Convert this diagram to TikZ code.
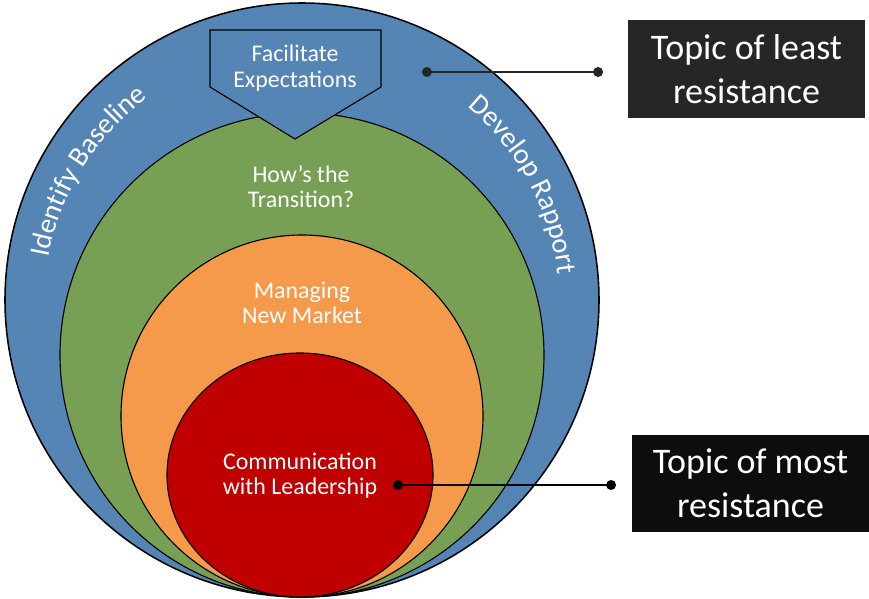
\documentclass[tikz,border=0pt]{standalone}
\usepackage{fontspec}
\setmainfont{Carlito}
\usepackage{xcolor}
\usetikzlibrary{arrows.meta, decorations.text}
\definecolor{ringblue}{HTML}{5585B5}
\definecolor{ringgreen}{HTML}{77A055}
\definecolor{ringorange}{HTML}{F59A4A}
\definecolor{ringred}{HTML}{C00000}
\definecolor{boxgrey}{HTML}{262626}
\definecolor{boxblack}{HTML}{0D0D0D}
\newcommand{\ringfont}{\fontsize{20.3pt}{24pt}\selectfont}
\tikzset{
  ring/.style={draw=black, line width=0.8pt},
  inlabel/.style={align=center, text=white, font=\fontsize{17pt}{18pt}\selectfont, inner sep=0pt},
  topicbox/.style={rectangle, minimum width=5.9cm, minimum height=2.43cm, align=center, text=white, font=\fontsize{25.6pt}{31.3pt}\selectfont, inner sep=0pt},
  pointer/.style={{Circle[length=7pt]}-{Circle[length=7pt]}, line width=1.4pt},
  ringtext/.style={decorate, decoration={text along path, text align=center, text color=white}},
}

\begin{document}
\begin{tikzpicture}[x=0.025cm, y=0.025cm]
\useasboundingbox (0,0) rectangle (869,-599);
% nested circles, all touching at the bottom
\fill[ringblue] (302,-300) circle[radius=297];
\draw[ring, line width=1.1pt] (302,-300) circle[radius=297];
\filldraw[ring, fill=ringgreen] (302,-355) circle[radius=242];
\filldraw[ring, fill=ringorange] (302,-416) circle[radius=181];
\filldraw[ring, fill=ringred] (300,-475) ellipse[x radius=133, y radius=122];
% top tab
\filldraw[ring, fill=ringblue] (210,-30) -- (381,-30) -- (381,-87) -- (295,-139) -- (210,-87) -- cycle;
% curved ring texts
\path[ringtext, decoration={text={|\ringfont|Identify Baseline}}]
  (302,-305) ++(175:258) arc[start angle=175, end angle=121, radius=258];
\path[ringtext, decoration={text={|\ringfont|Develop Rapport}}]
  (302,-305) ++(58:258) arc[start angle=58, end angle=-1, radius=258];
% labels
\node[inlabel] (facil) at (295,-68) {Facilitate\\Expectations};
\node[inlabel] (trans) at (301,-187) {How’s the\\Transition?};
\node[inlabel] (market) at (302,-303) {Managing\\New Market};
\node[inlabel] (lead) at (300,-476) {Communication\\with Leadership};
% topic boxes
\node[topicbox, fill=boxgrey] (least) at (746.5,-69) {Topic of least\\resistance};
\node[topicbox, fill=boxblack] (most) at (750.5,-483.5) {Topic of most\\resistance};
\coordinate (leastin) at (422,-72);
\coordinate (leastout) at (603,-72);
\coordinate (mostin) at (393,-485);
\coordinate (mostout) at (616,-485);
\draw[pointer, boxgrey] (leastin) -- (leastout);
\draw[pointer, black] (mostin) -- (mostout);
\end{tikzpicture}
\end{document}
